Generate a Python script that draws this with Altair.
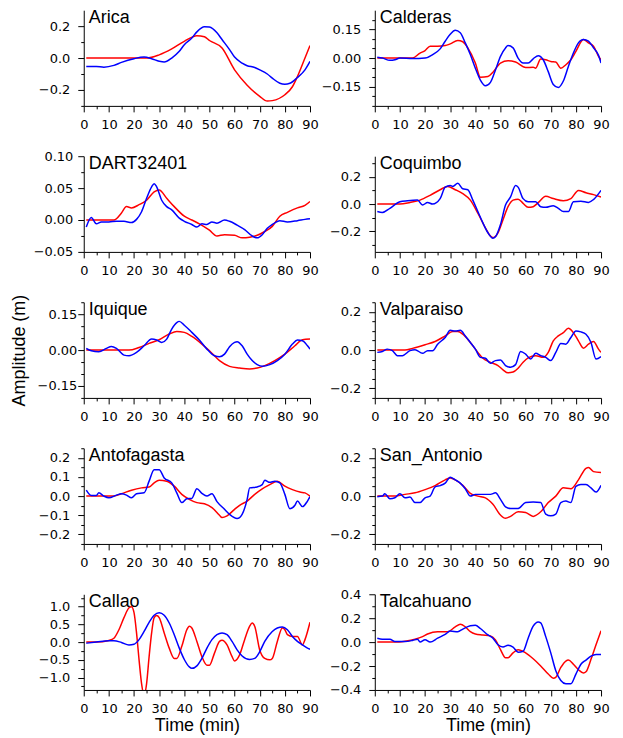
import json
import altair as alt
import pandas as pd

FONT = "Liberation Sans"
TICK_FONT = "DejaVu Sans"

# ---- data: (time [min], amplitude [m]) ----
ARICA_RED = [(1,0),(25,0),(30,0.02),(35,0.057),(40,0.105),(45,0.14),(48,0.133),(50,0.11),(55,0.063),(60,-0.074),(65,-0.17),(70,-0.24),(73,-0.27),(75,-0.267),(80,-0.23),(83,-0.18),(85,-0.116),(88,0),(90,0.078)]
ARICA_BLUE = [(1,-0.053),(5,-0.053),(8,-0.057),(12,-0.046),(15,-0.027),(20,-0.004),(24,0.006),(27,-0.004),(30,-0.02),(32,-0.025),(35,0),(38,0.042),(40,0.084),(43,0.126),(45,0.164),(48,0.196),(50,0.194),(53,0.158),(55,0.116),(58,0.053),(60,0.006),(63,-0.032),(65,-0.048),(68,-0.059),(70,-0.074),(73,-0.1),(75,-0.126),(78,-0.158),(80,-0.164),(82,-0.158),(85,-0.122),(88,-0.074),(90,-0.021)]

CALDERAS_RED = [(1,0),(15,0),(18,0.026),(20,0.039),(22,0.062),(25,0.062),(28,0.065),(30,0.074),(33,0.092),(35,0.085),(37,0.053),(40,-0.026),(42,-0.1),(45,-0.097),(47,-0.074),(50,-0.026),(53,-0.014),(56,-0.021),(60,-0.05),(63,-0.048),(64,-0.053),(66,-0.005),(68,-0.009),(70,-0.018),(72,-0.021),(74,-0.053),(76,-0.035),(78,-0.009),(80,0.035),(83,0.097),(85,0.079),(87,0.062),(89,0.009),(90,-0.009)]
CALDERAS_BLUE = [(1,0.004),(3,0),(6,-0.012),(8,-0.009),(10,0),(15,-0.003),(20,0),(23,0.018),(26,0.048),(28,0.088),(30,0.124),(32,0.145),(34,0.132),(36,0.079),(38,0.018),(40,-0.053),(42,-0.115),(44,-0.145),(46,-0.127),(48,-0.062),(50,0.009),(52,0.053),(53,0.065),(55,0.053),(57,0),(59,-0.026),(61,-0.026),(63,-0.004),(65,0.012),(67,-0.009),(69,-0.071),(71,-0.138),(73,-0.154),(75,-0.12),(77,-0.044),(79,0.026),(81,0.079),(83,0.097),(85,0.088),(87,0.053),(89,0.014),(90,-0.026)]

DART_RED = [(1,0),(12,0),(15,0.011),(17,0.021),(19,0.019),(22,0.024),(25,0.031),(28,0.044),(30,0.047),(33,0.034),(36,0.021),(40,0.006),(43,0),(46,-0.006),(50,-0.016),(53,-0.025),(56,-0.023),(60,-0.024),(63,-0.028),(66,-0.027),(69,-0.024),(72,-0.018),(75,-0.01),(78,0.006),(81,0.012),(85,0.019),(88,0.023),(90,0.029)]
DART_BLUE = [(1,-0.011),(3,0.004),(5,-0.006),(7,-0.003),(10,-0.003),(13,-0.002),(16,-0.002),(19,-0.004),(21,0.001),(23,0.013),(25,0.034),(27,0.052),(28,0.057),(29,0.052),(31,0.031),(33,0.021),(35,0.016),(38,0.003),(40,-0.002),(43,-0.007),(45,-0.011),(47,-0.006),(49,-0.007),(51,-0.003),(53,-0.005),(56,0),(58,-0.002),(61,-0.008),(64,-0.015),(67,-0.025),(69,-0.028),(71,-0.023),(73,-0.013),(75,-0.007),(78,-0.001),(81,-0.003),(85,-0.001),(88,0.001),(90,0.002)]

COQUIMBO_RED = [(1,0),(10,0),(14,0.012),(18,0.029),(22,0.064),(26,0.105),(29,0.129),(32,0.105),(35,0.076),(38,0.029),(41,-0.067),(44,-0.174),(46,-0.233),(47,-0.245),(49,-0.21),(51,-0.114),(53,-0.019),(55,0.029),(57,0.036),(59,0.005),(61,-0.024),(63,-0.019),(65,0.01),(68,0.057),(71,0.04),(75,0.024),(78,0.04),(81,0.1),(84,0.083),(87,0.069),(90,0.052)]
COQUIMBO_BLUE = [(1,-0.055),(3,-0.062),(6,-0.031),(10,0.017),(13,0.024),(17,0.029),(19,-0.007),(21,0.012),(23,0),(26,0.04),(28,0.124),(30,0.136),(31,0.129),(33,0.152),(35,0.112),(37,0.105),(39,0.029),(41,-0.055),(43,-0.138),(45,-0.21),(47,-0.25),(48,-0.24),(50,-0.15),(52,-0.007),(54,0.052),(56,0.136),(57,0.124),(59,0.04),(61,0.017),(64,0.017),(66,-0.019),(68,-0.024),(71,-0.012),(73,-0.031),(75,-0.055),(77,-0.055),(79,0.017),(82,0.021),(85,0.012),(87,0.033),(90,0.1)]

IQUIQUE_RED = [(1,0),(18,0),(22,0.011),(26,0.028),(30,0.043),(34,0.067),(37,0.078),(40,0.074),(43,0.057),(47,0.025),(50,-0.003),(54,-0.044),(58,-0.068),(62,-0.075),(66,-0.079),(69,-0.075),(72,-0.065),(76,-0.044),(80,-0.017),(84,0.018),(87,0.043),(90,0.046)]
IQUIQUE_BLUE = [(1,0.007),(3,-0.003),(6,-0.007),(9,0.007),(11,0.015),(13,0.007),(16,-0.021),(18,-0.024),(21,-0.01),(24,0.018),(27,0.046),(29,0.042),(31,0.032),(33,0.046),(35,0.088),(37,0.115),(38,0.12),(40,0.104),(43,0.074),(46,0.042),(49,0.004),(52,-0.024),(54,-0.028),(56,-0.017),(58,0.014),(60,0.032),(61,0.035),(63,0.018),(65,-0.017),(67,-0.044),(69,-0.061),(71,-0.068),(74,-0.061),(77,-0.044),(80,-0.017),(83,0.025),(85,0.042),(87,0.039),(89,0.018),(90,0.004)]

VALPARAISO_RED = [(1,0),(12,0),(15,0.009),(20,0.028),(24,0.045),(28,0.074),(31,0.097),(33,0.097),(35,0.083),(38,0.04),(41,-0.012),(43,-0.043),(46,-0.064),(49,-0.081),(51,-0.103),(53,-0.119),(55,-0.115),(57,-0.095),(59,-0.064),(61,-0.041),(64,-0.029),(67,-0.038),(69,-0.012),(71,0.048),(73,0.074),(75,0.091),(77,0.114),(79,0.091),(81,0.048),(83,0.01),(85,0.031),(87,0.045),(89,0.005),(90,-0.012)]
VALPARAISO_BLUE = [(1,-0.012),(3,-0.007),(5,0.005),(7,-0.003),(9,-0.029),(11,-0.029),(14,-0.003),(16,0.002),(19,-0.017),(21,-0.003),(23,-0.003),(25,0.031),(28,0.066),(30,0.103),(32,0.1),(34,0.103),(36,0.074),(38,0.04),(40,0.005),(42,-0.038),(44,-0.043),(46,-0.069),(48,-0.055),(50,-0.052),(52,-0.081),(54,-0.09),(56,-0.076),(58,-0.007),(60,-0.021),(62,-0.047),(64,-0.017),(66,-0.029),(68,-0.038),(70,-0.055),(72,-0.012),(74,0.034),(76,0.031),(78,0.066),(80,0.1),(82,0.095),(84,0.083),(86,0.04),(88,-0.047),(90,-0.034)]

ANTOFAGASTA_RED = [(1,0),(12,0),(15,0.012),(19,0.031),(23,0.043),(26,0.047),(28,0.069),(30,0.083),(33,0.078),(36,0.052),(39,0.009),(42,-0.017),(45,-0.034),(48,-0.04),(51,-0.06),(54,-0.1),(55,-0.112),(57,-0.103),(60,-0.069),(62,-0.048),(65,-0.026),(68,0.009),(71,0.038),(74,0.06),(77,0.078),(80,0.052),(83,0.034),(86,0.021),(88,0.017),(90,0)]
ANTOFAGASTA_BLUE = [(1,0.031),(3,0.003),(5,0.003),(6,0.017),(8,0),(10,-0.009),(13,0.005),(15,0.012),(17,0.005),(19,-0.009),(21,0.012),(24,0.017),(26,0.078),(28,0.138),(30,0.138),(32,0.095),(35,0.069),(37,0.017),(39,-0.034),(41,-0.014),(43,-0.012),(45,0.038),(47,0.014),(49,0),(51,0.012),(53,-0.029),(56,-0.069),(58,-0.095),(61,-0.117),(63,-0.095),(65,-0.017),(66,0.043),(69,0.048),(71,0.06),(72,0.083),(74,0.072),(76,0.078),(78,0.069),(80,0.009),(82,-0.066),(84,-0.048),(85,-0.026),(87,-0.055),(89,-0.026),(90,-0.003)]

SAN_ANTONIO_RED = [(1,0),(8,0),(12,0.009),(16,0.017),(20,0.034),(24,0.055),(28,0.085),(30,0.094),(32,0.085),(35,0.056),(38,0.014),(41,0),(44,-0.009),(47,-0.043),(50,-0.099),(52,-0.116),(54,-0.106),(57,-0.082),(60,-0.086),(63,-0.106),(66,-0.082),(69,-0.034),(72,0),(75,0.043),(78,0.038),(81,0.085),(84,0.145),(85,0.15),(87,0.128),(90,0.123)]
SAN_ANTONIO_BLUE = [(1,-0.003),(3,0),(4,0.012),(6,-0.014),(8,-0.009),(10,0.012),(12,-0.009),(14,-0.005),(16,-0.034),(18,-0.034),(20,-0.009),(22,0),(24,0.048),(26,0.055),(28,0.068),(30,0.099),(32,0.085),(34,0.068),(36,0.038),(38,0),(40,0.009),(43,0.009),(46,0.009),(48,0.017),(50,-0.017),(52,-0.056),(54,-0.065),(57,-0.065),(60,-0.034),(63,-0.031),(66,-0.034),(68,-0.094),(70,-0.103),(72,-0.094),(74,-0.034),(76,-0.026),(78,-0.034),(80,0.051),(82,0.06),(84,0.06),(86,0.043),(88,0.021),(90,0.056)]

CALLAO_RED = [(1,0),(5,0),(10,0.048),(12,0.11),(14,0.35),(16,0.69),(18,0.97),(19,1.0),(20,0.83),(21,0.26),(22,-0.5),(23,-1.17),(24,-1.5),(25,-1.17),(26,-0.41),(27,0.26),(28,0.69),(29,0.75),(30,0.69),(32,0.26),(34,-0.17),(36,-0.46),(37,-0.46),(39,-0.12),(41,0.35),(42,0.45),(43,0.4),(45,0.02),(47,-0.41),(49,-0.65),(50,-0.65),(52,-0.31),(54,0.02),(55,0.05),(57,-0.08),(59,-0.41),(60,-0.53),(62,-0.36),(64,0.07),(66,0.45),(67,0.54),(68,0.45),(70,-0.22),(72,-0.46),(74,-0.5),(75,-0.46),(77,0.02),(79,0.4),(80,0.35),(81,0.21),(83,0.16),(85,0.16),(87,-0.08),(88,0.07),(90,0.56)]
CALLAO_BLUE = [(1,-0.03),(5,0),(10,0.04),(12,0.04),(15,-0.01),(18,-0.08),(20,-0.06),(22,0.07),(24,0.3),(26,0.56),(28,0.76),(30,0.83),(32,0.76),(34,0.54),(36,0.21),(38,-0.17),(40,-0.49),(42,-0.7),(43,-0.74),(45,-0.67),(47,-0.46),(49,-0.17),(51,0.07),(53,0.21),(55,0.26),(57,0.21),(59,0.02),(61,-0.22),(63,-0.39),(66,-0.49),(68,-0.46),(70,-0.27),(72,0.02),(75,0.3),(77,0.4),(79,0.43),(81,0.35),(83,0.16),(85,0.02),(87,-0.08),(89,-0.17),(90,-0.2)]

TALCAHUANO_RED = [(1,0),(8,0),(12,0.008),(16,0.024),(19,0.046),(21,0.068),(25,0.087),(29,0.087),(32,0.128),(34,0.15),(36,0.128),(38,0.087),(40,0.068),(43,0.06),(46,0.052),(48,0.019),(50,-0.063),(52,-0.131),(53,-0.131),(55,-0.09),(57,-0.063),(60,-0.09),(63,-0.139),(66,-0.199),(69,-0.267),(71,-0.302),(72,-0.294),(74,-0.212),(76,-0.158),(77,-0.15),(79,-0.185),(81,-0.231),(83,-0.258),(84,-0.248),(86,-0.144),(88,-0.022),(90,0.095)]
TALCAHUANO_BLUE = [(1,0.033),(3,0.024),(6,0.024),(8,0.005),(12,0.005),(15,0.014),(17,0.024),(18,0),(20,0.019),(22,0),(25,0.033),(28,0.065),(30,0.092),(33,0.087),(35,0.109),(38,0.136),(40,0.141),(42,0.114),(45,0.06),(47,0.033),(49,-0.022),(51,-0.041),(53,-0.027),(55,-0.041),(57,-0.084),(59,-0.076),(61,0.033),(63,0.133),(65,0.169),(66,0.161),(68,0.046),(70,-0.09),(72,-0.239),(74,-0.321),(76,-0.348),(78,-0.348),(80,-0.267),(82,-0.185),(84,-0.15),(86,-0.117),(88,-0.103),(90,-0.103)]

# ---- axis ticks ----
X_TICKS = list(range(0, 91, 5))
X_MAJOR = list(range(0, 91, 10))


def steps(lo, hi, step):
    n = int(round((hi - lo) / step))
    return [round(lo + i * step, 3) for i in range(n + 1)]


# name, red, blue, y-domain, major ticks, minor ticks, format, label padding, x title, y title
PANELS = [
    ("Arica", ARICA_RED, ARICA_BLUE, [-0.3, 0.3], [-0.2, 0.0, 0.2], steps(-0.3, 0.2, 0.1), ".1f", 8, None, None),
    ("Calderas", CALDERAS_RED, CALDERAS_BLUE, [-0.25, 0.25], [-0.15, 0.0, 0.15], steps(-0.25, 0.2, 0.05), ".2f", 8, None, None),
    ("DART32401", DART_RED, DART_BLUE, [-0.05, 0.1], [-0.05, 0.0, 0.05, 0.1], steps(-0.05, 0.1, 0.025), ".2f", 5, None, None),
    ("Coquimbo", COQUIMBO_RED, COQUIMBO_BLUE, [-0.35, 0.35], [-0.2, 0.0, 0.2], steps(-0.3, 0.3, 0.1), ".1f", 8, None, None),
    ("Iquique", IQUIQUE_RED, IQUIQUE_BLUE, [-0.2, 0.2], [-0.15, 0.0, 0.15], steps(-0.2, 0.2, 0.05), ".2f", 1, None, "Amplitude (m)"),
    ("Valparaiso", VALPARAISO_RED, VALPARAISO_BLUE, [-0.25, 0.25], [-0.2, 0.0, 0.2], steps(-0.25, 0.25, 0.05), ".1f", 8, None, None),
    ("Antofagasta", ANTOFAGASTA_RED, ANTOFAGASTA_BLUE, [-0.25, 0.25], [-0.2, -0.1, 0.0, 0.1, 0.2], steps(-0.25, 0.25, 0.05), ".1f", 8, None, None),
    ("San_Antonio", SAN_ANTONIO_RED, SAN_ANTONIO_BLUE, [-0.25, 0.25], [-0.2, 0.0, 0.2], steps(-0.25, 0.25, 0.05), ".1f", 8, None, None),
    ("Callao", CALLAO_RED, CALLAO_BLUE, [-1.35, 1.35], [-1.0, -0.5, 0.0, 0.5, 1.0], steps(-1.25, 1.25, 0.25), ".1f", 8, "Time (min)", None),
    ("Talcahuano", TALCAHUANO_RED, TALCAHUANO_BLUE, [-0.4, 0.4], [-0.4, -0.2, 0.0, 0.2, 0.4], steps(-0.4, 0.4, 0.1), ".1f", 8, "Time (min)", None),
]

W, H = 227, 96


def tick_size(majors):
    test = "indexof(%s, datum.value) >= 0" % json.dumps(majors)
    return {"condition": {"test": test, "value": 6}, "value": 3}


def make_panel(name, red, blue, ydom, ymaj, ymin, fmt, lpad, xtitle, ytitle):
    xaxis = alt.Axis(
        values=X_TICKS,
        labelExpr="indexof(%s, datum.value) >= 0 ? datum.label : ''" % json.dumps(X_MAJOR),
        tickSize=tick_size(X_MAJOR),
        labelPadding=7,
        labelFlush=False,
        labelOverlap=False,
        grid=False,
        title=xtitle,
        titlePadding=1,
    )
    yaxis = alt.Axis(
        values=ymin,
        format=fmt,
        labelExpr="indexof(%s, datum.value) >= 0 ? datum.label : ''" % json.dumps(ymaj),
        tickSize=tick_size(ymaj),
        labelPadding=lpad,
        labelFlush=False,
        labelOverlap=False,
        grid=False,
        minExtent=47,
        maxExtent=47,
        title=ytitle,
        titlePadding=8,
    )
    xs = alt.Scale(domain=[0, 90], nice=False, zero=False)
    ys = alt.Scale(domain=ydom, nice=False, zero=False)

    def line(series, color):
        df = pd.DataFrame(series, columns=["t", "v"])
        return alt.Chart(df).mark_line(
            color=color, strokeWidth=1.5, interpolate="monotone", clip=True
        ).encode(
            x=alt.X("t:Q", scale=xs, axis=xaxis),
            y=alt.Y("v:Q", scale=ys, axis=yaxis),
        )

    label = alt.Chart(pd.DataFrame({"name": [name]})).mark_text(
        align="left", baseline="alphabetic", fontSize=18, font=FONT, color="black"
    ).encode(text="name:N", x=alt.value(5), y=alt.value(13))

    return alt.layer(line(red, "#ff0000"), line(blue, "#0000ff"), label).properties(width=W, height=H)


panels = [make_panel(*p) for p in PANELS]

chart = alt.concat(
    *panels, columns=2, spacing={"row": 50.5, "column": 65}, bounds="flush"
).properties(
    padding={"left": 3, "top": 0, "right": 5, "bottom": 5}
).configure_view(
    stroke=None
).configure_axis(
    domainColor="black",
    domainWidth=1,
    tickColor="black",
    tickWidth=1,
    labelColor="black",
    labelFont=TICK_FONT,
    labelFontSize=13,
    titleFont=FONT,
    titleFontSize=18,
    titleFontWeight="normal",
    titleColor="black",
)

chart.save("out.html", embed_options={"renderer": "svg", "actions": False})
